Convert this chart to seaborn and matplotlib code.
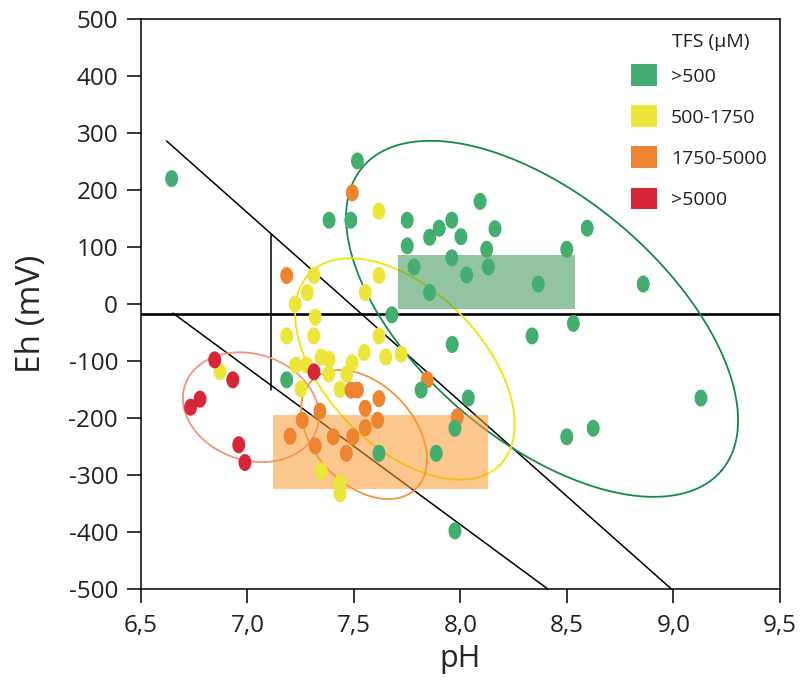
import numpy as np
import pandas as pd
import matplotlib
matplotlib.use("Agg")
import matplotlib.pyplot as plt
from matplotlib.path import Path
from matplotlib.patches import Rectangle, Patch
import seaborn as sns

# ---------------- data ----------------
categories = [">500", "500-1750", "1750-5000", ">5000"]
colors = ["#43AE6F", "#ECE63A", "#EE842F", "#D82639"]

ph_green = [6.644, 7.516, 7.383, 7.485, 7.750, 7.959, 7.900, 7.855, 8.002, 7.750,
            7.959, 7.782, 8.029, 7.855, 7.678, 8.092, 8.162, 8.595, 8.123, 8.499,
            8.131, 8.365, 8.858, 8.530, 8.336, 7.961, 8.037, 9.129, 8.623, 8.499,
            7.184, 7.815, 7.974, 7.617, 7.886, 7.974]
eh_green = [220, 251, 147, 147, 147, 147, 133, 117, 118, 102,
            81, 65, 51, 20, -19, 180, 132, 133, 96, 96,
            65, 35, 35, -34, -56, -71, -165, -165, -218, -233,
            -133, -151, -218, -262, -262, -398]

ph_yellow = [7.617, 7.312, 7.617, 7.281, 7.553, 7.224, 7.318, 7.184, 7.311, 7.617,
             7.548, 7.649, 7.721, 7.346, 7.383, 7.491, 7.226, 7.278, 7.381, 7.466,
             6.871, 7.251, 7.434, 7.346, 7.434, 7.434]
eh_yellow = [163, 50, 50, 20, 20, 0, -23, -56, -56, -56,
             -85, -93, -88, -93, -97, -103, -107, -107, -123, -123,
             -119, -149, -150, -293, -315, -333]

ph_orange = [7.492, 7.184, 7.486, 7.516, 7.617, 7.340, 7.553, 7.611, 7.257, 7.553,
             7.200, 7.403, 7.494, 7.318, 7.464, 7.844, 7.985]
eh_orange = [195, 50, -151, -151, -166, -188, -183, -204, -204, -217,
             -232, -233, -233, -249, -262, -133, -198]

ph_red = [6.846, 6.931, 6.777, 6.733, 6.959, 6.988, 7.312]
eh_red = [-98, -133, -167, -181, -247, -278, -119]

x_ticks = [6.5, 7.0, 7.5, 8.0, 8.5, 9.0, 9.5]
x_tick_labels = ["6,5", "7,0", "7,5", "8,0", "8,5", "9,0", "9,5"]
y_ticks = list(range(-500, 501, 100))

# drawing order: yellow, orange, red, green
df = pd.concat([
    pd.DataFrame({"pH": ph_yellow, "Eh": eh_yellow, "TFS": categories[1]}),
    pd.DataFrame({"pH": ph_orange, "Eh": eh_orange, "TFS": categories[2]}),
    pd.DataFrame({"pH": ph_red, "Eh": eh_red, "TFS": categories[3]}),
    pd.DataFrame({"pH": ph_green, "Eh": eh_green, "TFS": categories[0]}),
], ignore_index=True)

# ---------------- style ----------------
sns.set_style("ticks")
plt.rcParams["font.family"] = ["Open Sans", "DejaVu Sans"]
plt.rcParams["text.color"] = "#231F20"

W, H = 803, 694
fig = plt.figure(figsize=(W / 100, H / 100), dpi=100)
ax = fig.add_axes([141 / W, 1 - 589 / H, 639 / W, 570 / H])
ax.set_xlim(6.5, 9.5)
ax.set_ylim(-500, 500)

# unit conversion px -> data
px_x = 3.0 / 639.0
px_y = 1000.0 / 570.0

# reference lines
ax.axhline(-17.5, color="black", lw=1.9, zorder=2)
ax.plot([7.11, 7.11], [121, -151], color="black", lw=1.1, zorder=2)
ax.plot([6.62, 8.99], [286, -500], color="black", lw=1.1, zorder=2, clip_on=False)
ax.plot([6.65, 8.41], [-16, -500], color="black", lw=1.1, zorder=2, clip_on=False)

# ellipses (center in data units, semi-axes in px, angle clockwise on screen)
def draw_ellipse(cx, cy, a, b, theta, color):
    t = np.linspace(0, 2 * np.pi, 400)
    th = np.deg2rad(theta)
    dx = a * np.cos(th) * np.cos(t) - b * np.sin(th) * np.sin(t)
    dy = a * np.sin(th) * np.cos(t) + b * np.cos(th) * np.sin(t)
    ax.plot(cx + dx * px_x, cy - dy * px_y, color=color, lw=1.3, zorder=3)

draw_ellipse(8.383, -26, 235, 122, 40.2, "#138A47")
draw_ellipse(7.739, -114, 135, 78, 45.5, "#F2E400")
draw_ellipse(7.547, -229, 75, 50, 46.8, "#F3963A")
draw_ellipse(7.016, -181, 69.5, 53, 18.5, "#F4937A")

# shaded boxes
ax.add_patch(Rectangle((7.707, -9), 8.539 - 7.707, 86 + 9,
                       facecolor="#3B9456", alpha=0.55, lw=0, zorder=4))
ax.add_patch(Rectangle((7.118, -325), 8.128 - 7.118, 325 - 195,
                       facecolor="#F99A2E", alpha=0.55, lw=0, zorder=4))

# points: vertical ellipse marker
tt = np.linspace(0, 2 * np.pi, 60)
ell_marker = Path(np.column_stack([0.76 * np.cos(tt), np.sin(tt)]), closed=True)
sns.scatterplot(data=df, x="pH", y="Eh", hue="TFS", hue_order=categories,
                palette=colors, marker=ell_marker, s=150, linewidth=0,
                edgecolor="none", legend=False, ax=ax, zorder=5)

# axes styling
for sp in ax.spines.values():
    sp.set_visible(True)
    sp.set_color("black")
    sp.set_linewidth(1.1)
ax.set_xticks(x_ticks)
ax.set_xticklabels(x_tick_labels)
ax.set_yticks(y_ticks)
ax.set_yticklabels([str(v) for v in y_ticks])
ax.tick_params(axis="both", direction="out", length=10, width=1.1,
               labelsize=17.5, colors="black", labelcolor="#231F20")
ax.tick_params(axis="x", pad=8)
ax.tick_params(axis="y", pad=6.5)
ax.set_xlabel("pH", fontsize=22)
ax.set_ylabel("Eh (mV)", fontsize=24)
ax.xaxis.set_label_coords(0.5, -0.097)
ax.yaxis.set_label_coords(-0.1455, 0.482)

# legend
handles = [Patch(facecolor=c, edgecolor="none", label=l) for c, l in zip(colors, categories)]
ax.legend(handles=handles, loc="upper left", bbox_to_anchor=(0.7668, 0.9207),
          frameon=False, fontsize=14, handlelength=1.34, handleheight=1.34,
          labelspacing=1.0, handletextpad=0.72, borderpad=0, borderaxespad=0)
ax.text(0.831, 0.9596, "TFS (µM)", transform=ax.transAxes, fontsize=14,
        ha="left", va="center")

fig.savefig("out.png", dpi=100)
